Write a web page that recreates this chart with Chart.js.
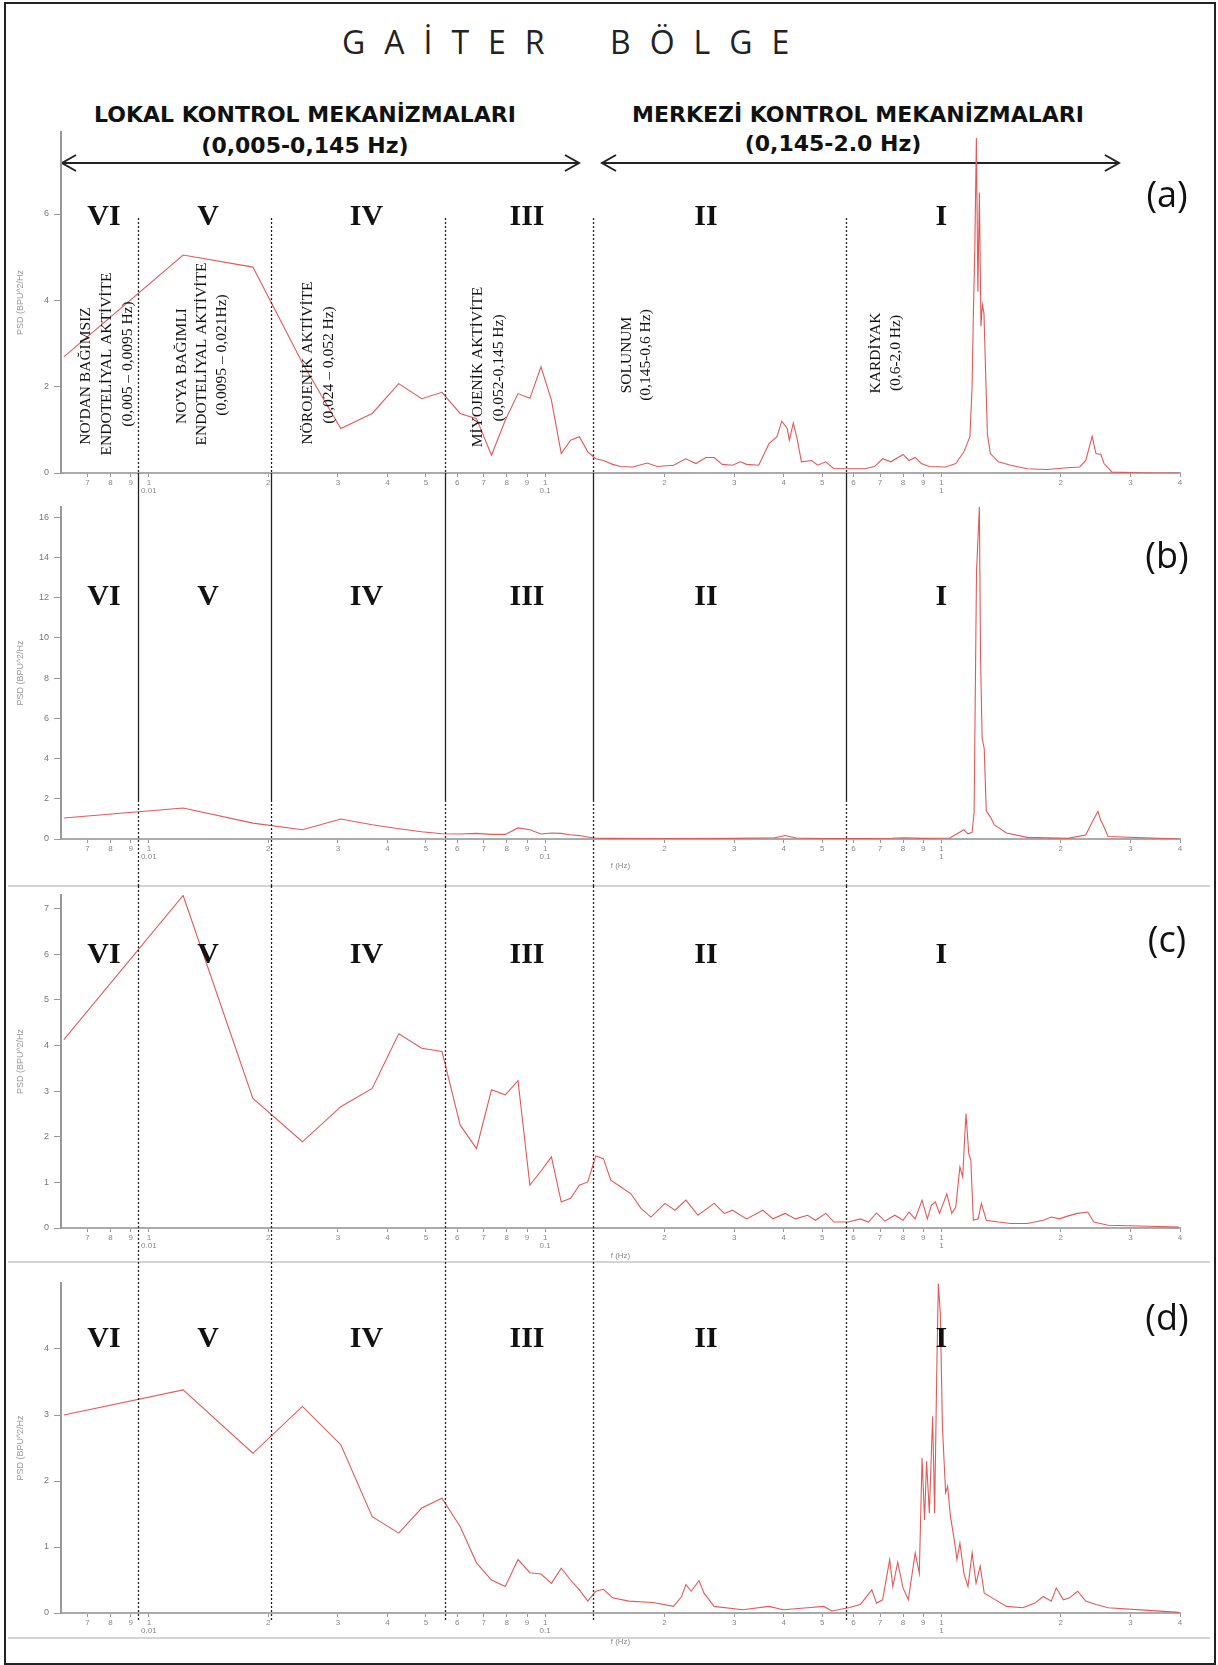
<!DOCTYPE html>
<html>
<head>
<meta charset="utf-8">
<script src="https://cdn.jsdelivr.net/npm/chart.js@4.4.1/dist/chart.umd.min.js"></script>
<style>
  body { margin: 0; background: #fff; }
  #page { position: relative; width: 1218px; height: 1665px; overflow: hidden; background: #fff; }
  .frame { position: absolute; left: 4px; top: 2px; width: 1208px; height: 1659px; border: 2px solid #222; }
  .sep { position: absolute; left: 8px; width: 1202px; height: 2px; background: #d4d4d4; }
  .title { position: absolute; font: 32px "Open Sans"; line-height: 32px; letter-spacing: 19px; color: #222; }
  .hdr { position: absolute; width: 600px; text-align: center; font: bold 22px "DejaVu Sans"; line-height: 22px; color: #111; }
  canvas { position: absolute; left: 0; }
</style>
</head>
<body>
<div id="page">
  <div class="frame"></div>
  <div class="title" style="left:342px; top:26px;">GAİTER</div>
  <div class="title" style="left:610px; top:26px;">BÖLGE</div>
  <div class="hdr" style="left:5px; top:104px;">LOKAL KONTROL MEKANİZMALARI</div>
  <div class="hdr" style="left:5px; top:135px;">(0,005-0,145 Hz)</div>
  <div class="hdr" style="left:558px; top:104px;">MERKEZİ KONTROL MEKANİZMALARI</div>
  <div class="hdr" style="left:533px; top:133px;">(0,145-2.0 Hz)</div>
  <svg style="position:absolute; left:0; top:0;" width="1218" height="200">
    <g stroke="#222" stroke-width="2" fill="none">
      <line x1="62" y1="163" x2="579" y2="163"/>
      <polyline points="76,155 62,163 76,171"/>
      <polyline points="565,155 579,163 565,171"/>
      <line x1="602" y1="163" x2="1119" y2="163"/>
      <polyline points="616,155 602,163 616,171"/>
      <polyline points="1105,155 1119,163 1105,171"/>
    </g>
  </svg>
  <div class="sep" style="top:885px;"></div>
  <div class="sep" style="top:1261px;"></div>
  <div class="sep" style="top:1637px;"></div>
  <canvas id="chartA" width="1218" height="380" style="top:120px;"></canvas>
  <canvas id="chartB" width="1218" height="386" style="top:500px;"></canvas>
  <canvas id="chartC" width="1218" height="376" style="top:886px;"></canvas>
  <canvas id="chartD" width="1218" height="403" style="top:1262px;"></canvas>
</div>

<script>
// frekans ekseni (log) ve bölge sınırları
const xTickValues = [0.007, 0.008, 0.009, 0.01, 0.02, 0.03, 0.04, 0.05, 0.06, 0.07, 0.08, 0.09,
  0.1, 0.2, 0.3, 0.4, 0.5, 0.6, 0.7, 0.8, 0.9, 1, 2, 3, 4];
const xTickLabels = ['7', '8', '9', ['1', '0.01'], '2', '3', '4', '5', '6', '7', '8', '9',
  ['1', '0.1'], '2', '3', '4', '5', '6', '7', '8', '9', ['1', '1'], '2', '3', '4'];
const boundaries = [0.0094, 0.0203, 0.056, 0.132, 0.573];
const numerals = ['VI', 'V', 'IV', 'III', 'II', 'I'];
const numeralFreqs = [0.0077, 0.0141, 0.0354, 0.09, 0.2545, 1.0];

// (a)
const freqA = [0.0061, 0.0122, 0.0183, 0.0244, 0.0305, 0.0366, 0.0427, 0.0488, 0.0549, 0.061,
  0.0671, 0.0732, 0.0793, 0.0854, 0.0915, 0.0976, 0.1037, 0.1098, 0.1159, 0.122,
  0.1281, 0.1342, 0.1403, 0.148, 0.155, 0.1665, 0.1808, 0.1918, 0.2109, 0.2263,
  0.2401, 0.2545, 0.2669, 0.2798, 0.2969, 0.3111, 0.3223, 0.3459, 0.3671, 0.3847,
  0.3954, 0.4082, 0.4132, 0.4229, 0.433, 0.4433, 0.4703, 0.4871, 0.5107, 0.5355,
  0.639, 0.678, 0.7105, 0.7455, 0.80, 0.8286, 0.8586, 0.8895, 0.9322, 1.0247,
  1.087, 1.1395, 1.18, 1.195, 1.203, 1.2144, 1.2252, 1.236, 1.2467, 1.2581,
  1.2686, 1.2804, 1.2921, 1.3063, 1.3289, 1.3921, 1.4951, 1.6469, 1.848, 2.08,
  2.2336, 2.3133, 2.4011, 2.4544, 2.5254, 2.5722, 2.6954, 3.334, 3.976];
const psdA = [2.69, 5.05, 4.77, 2.55, 1.03, 1.38, 2.07, 1.72, 1.87, 1.38,
  1.26, 0.41, 1.22, 1.84, 1.73, 2.46, 1.69, 0.45, 0.76, 0.84,
  0.49, 0.33, 0.29, 0.2, 0.15, 0.14, 0.23, 0.15, 0.18, 0.33,
  0.22, 0.36, 0.36, 0.2, 0.18, 0.26, 0.2, 0.18, 0.68, 0.84,
  1.2, 1.03, 0.76, 1.16, 0.76, 0.26, 0.29, 0.18, 0.26, 0.1,
  0.1, 0.15, 0.33, 0.26, 0.43, 0.29, 0.36, 0.22, 0.15, 0.14,
  0.22, 0.49, 0.84, 2.0, 3.55, 5.25, 7.76, 4.2, 6.5, 3.4,
  3.9, 3.7, 2.4, 0.9, 0.45, 0.26, 0.18, 0.1, 0.08, 0.12,
  0.14, 0.29, 0.85, 0.45, 0.43, 0.22, 0.02, 0.0, 0.0];

// (b)
const freqB = [0.0061, 0.0122, 0.0183, 0.0244, 0.0305, 0.0366, 0.0427, 0.0488, 0.0549, 0.061,
  0.0671, 0.0732, 0.0793, 0.0854, 0.0915, 0.0976, 0.1037, 0.1098, 0.1159, 0.122,
  0.1281, 0.1342, 0.145, 0.2, 0.3, 0.38, 0.403, 0.43, 0.5, 0.6,
  0.75, 0.8, 0.9, 1.05, 1.1395, 1.167, 1.195, 1.209, 1.2262, 1.2467,
  1.2553, 1.2669, 1.2823, 1.2977, 1.3289, 1.36, 1.4594, 1.6469, 2.08, 2.3133,
  2.4011, 2.4832, 2.5254, 2.5604, 2.6335, 4.0];
const psdB = [1.04, 1.54, 0.79, 0.46, 0.99, 0.71, 0.51, 0.36, 0.26, 0.25,
  0.28, 0.23, 0.23, 0.55, 0.46, 0.25, 0.3, 0.28, 0.21, 0.17,
  0.1, 0.04, 0.03, 0.02, 0.03, 0.06, 0.17, 0.05, 0.02, 0.02,
  0.04, 0.06, 0.03, 0.05, 0.46, 0.26, 0.33, 1.3, 13.3, 16.5,
  9.0, 5.0, 4.5, 1.4, 1.1, 0.7, 0.3, 0.08, 0.03, 0.2,
  0.85, 1.37, 0.9, 0.7, 0.12, 0.0];

// (c)
const freqC = [0.0061, 0.0122, 0.0183, 0.0244, 0.0305, 0.0366, 0.0427, 0.0488, 0.0549, 0.061,
  0.0671, 0.0732, 0.0793, 0.0854, 0.0915, 0.0976, 0.1037, 0.1098, 0.1159, 0.122,
  0.1281, 0.1342, 0.1403, 0.1464, 0.1553, 0.1646, 0.1745, 0.1849, 0.2006, 0.2126,
  0.2266, 0.243, 0.2669, 0.2833, 0.2969, 0.3223, 0.3543, 0.3758, 0.4034, 0.4279,
  0.4594, 0.4813, 0.5107, 0.5355, 0.5822, 0.6245, 0.6545, 0.6859, 0.7194, 0.7629,
  0.80, 0.8286, 0.8586, 0.8936, 0.9215, 0.9437, 0.9658, 0.989, 1.0318, 1.0616,
  1.087, 1.1133, 1.1314, 1.1533, 1.1722, 1.1861, 1.2037, 1.2384, 1.2612, 1.2977,
  1.3922, 1.4951, 1.6469, 1.8066, 1.8935, 1.9846, 2.08, 2.2033, 2.3406, 2.4246,
  2.6335, 3.334, 3.976];
const psdC = [4.13, 7.29, 2.84, 1.89, 2.66, 3.06, 4.26, 3.94, 3.87, 2.26,
  1.74, 3.03, 2.92, 3.23, 0.94, 1.25, 1.56, 0.57, 0.65, 0.94,
  1.01, 1.58, 1.52, 1.05, 0.9, 0.75, 0.43, 0.24, 0.54, 0.39,
  0.61, 0.28, 0.54, 0.32, 0.39, 0.2, 0.39, 0.2, 0.32, 0.2,
  0.28, 0.17, 0.32, 0.13, 0.13, 0.2, 0.13, 0.33, 0.15, 0.28,
  0.17, 0.35, 0.2, 0.61, 0.2, 0.5, 0.57, 0.32, 0.75, 0.32,
  0.46, 1.34, 1.12, 2.51, 1.63, 1.49, 0.17, 0.2, 0.54, 0.17,
  0.13, 0.1, 0.1, 0.17, 0.24, 0.2, 0.26, 0.32, 0.35, 0.13,
  0.06, 0.04, 0.02];

// (d)
const freqD = [0.0061, 0.0122, 0.0183, 0.0244, 0.0305, 0.0366, 0.0427, 0.0488, 0.0549, 0.061,
  0.0671, 0.0732, 0.0793, 0.0854, 0.0915, 0.0976, 0.1037, 0.1098, 0.1159, 0.122,
  0.1281, 0.1342, 0.1403, 0.148, 0.1626, 0.1872, 0.2109, 0.2209, 0.2266, 0.2336,
  0.2445, 0.2517, 0.2669, 0.3148, 0.3671, 0.3986, 0.4594, 0.5046, 0.5291, 0.5822,
  0.6245, 0.6673, 0.6859, 0.7105, 0.7403, 0.7539, 0.7757, 0.80, 0.8249, 0.8586,
  0.8794, 0.8936, 0.9066, 0.9173, 0.9322, 0.9502, 0.9613, 0.9731, 0.9822, 0.9936,
  1.0058, 1.0247, 1.0366, 1.054, 1.0741, 1.0946, 1.1133, 1.1395, 1.1668, 1.1952,
  1.2229, 1.2527, 1.2823, 1.36, 1.4594, 1.6049, 1.7221, 1.8066, 1.8935, 1.9485,
  2.0322, 2.1054, 2.2066, 2.3133, 2.4544, 2.6335, 3.334, 3.976];
const psdD = [3.0, 3.38, 2.42, 3.13, 2.55, 1.46, 1.21, 1.59, 1.74, 1.31,
  0.76, 0.5, 0.4, 0.81, 0.61, 0.59, 0.45, 0.68, 0.5, 0.35,
  0.18, 0.33, 0.36, 0.23, 0.18, 0.16, 0.1, 0.25, 0.43, 0.33,
  0.49, 0.3, 0.1, 0.05, 0.1, 0.05, 0.08, 0.1, 0.03, 0.08,
  0.13, 0.35, 0.15, 0.2, 0.81, 0.4, 0.77, 0.38, 0.2, 0.91,
  0.6, 2.35, 1.41, 2.3, 1.51, 2.98, 1.51, 3.63, 4.99, 4.54,
  2.82, 1.82, 1.92, 1.46, 1.16, 0.81, 1.06, 0.6, 0.4, 0.91,
  0.45, 0.71, 0.3, 0.21, 0.1, 0.08, 0.15, 0.25, 0.18, 0.38,
  0.2, 0.23, 0.33, 0.18, 0.13, 0.08, 0.04, 0.01];

const yTicksA = [0, 2, 4, 6];
const yTicksB = [0, 2, 4, 6, 8, 10, 12, 14, 16];
const yTicksC = [0, 1, 2, 3, 4, 5, 6, 7];
const yTicksD = [0, 1, 2, 3, 4];

// (a) panelindeki dikey açıklamalar
const notesA = [
  { x: 86, y: 376, t: "NO'DAN BAĞIMSIZ" },
  { x: 107, y: 364, t: 'ENDOTELİYAL AKTİVİTE' },
  { x: 128, y: 364, t: '(0,005 – 0,0095 Hz)' },
  { x: 182, y: 366, t: "NO'YA BAĞIMLI" },
  { x: 202, y: 354, t: 'ENDOTELİYAL AKTİVİTE' },
  { x: 222, y: 355, t: '(0,0095 – 0,021Hz)' },
  { x: 308, y: 363, t: 'NÖROJENİK AKTİVİTE' },
  { x: 329, y: 365, t: '(0,024 – 0,052 Hz)' },
  { x: 478, y: 367, t: 'MİYOJENİK AKTİVİTE' },
  { x: 499, y: 368, t: '(0,052-0,145 Hz)' },
  { x: 627, y: 355, t: 'SOLUNUM' },
  { x: 646, y: 355, t: '(0,145-0,6 Hz)' },
  { x: 876, y: 353, t: 'KARDİYAK' },
  { x: 896, y: 353, t: '(0,6-2,0 Hz)' }
];

const lineColor = '#e05a5a';
const dotted = [2, 2];

// bölge çizgileri, roma rakamları ve panel harfi
const regionPlugin = {
  id: 'regions',
  afterDraw(chart, args, opts) {
    const ctx = chart.ctx;
    const xs = chart.scales.x;
    ctx.save();
    ctx.strokeStyle = '#222';
    ctx.lineWidth = 1.3;
    boundaries.forEach(function (f) {
      const px = Math.round(xs.getPixelForValue(f)) + 0.5;
      opts.segments.forEach(function (s) {
        ctx.setLineDash(s[2]);
        ctx.beginPath();
        ctx.moveTo(px, s[0]);
        ctx.lineTo(px, s[1]);
        ctx.stroke();
      });
    });
    ctx.setLineDash([]);
    ctx.fillStyle = '#111';
    ctx.textAlign = 'center';
    ctx.textBaseline = 'middle';
    ctx.font = 'bold 30px "Liberation Serif"';
    numerals.forEach(function (n, i) {
      ctx.fillText(n, xs.getPixelForValue(numeralFreqs[i]), opts.numeralY);
    });
    ctx.font = '36px "Open Sans"';
    ctx.fillText(opts.letter, 1167, opts.letterY);
    if (opts.notes) {
      ctx.font = '15.5px "Liberation Serif"';
      opts.notes.forEach(function (n) {
        ctx.save();
        ctx.translate(n.x, n.y - opts.top);
        ctx.rotate(-Math.PI / 2);
        ctx.fillText(n.t, 0, 0);
        ctx.restore();
      });
    }
    ctx.restore();
  }
};

function makePanel(id, freqs, psd, yMax, yTicks, p) {
  const points = freqs.map(function (f, i) { return { x: f, y: psd[i] }; });
  return new Chart(document.getElementById(id), {
    type: 'line',
    data: {
      datasets: [{
        data: points,
        borderColor: lineColor,
        borderWidth: 1.1,
        pointRadius: 0,
        tension: 0,
        fill: false
      }]
    },
    options: {
      responsive: false,
      animation: false,
      layout: { padding: { left: 0, right: 38, top: p.padTop, bottom: 0 } },
      plugins: {
        legend: { display: false },
        tooltip: { enabled: false },
        regions: {
          segments: p.segments,
          numeralY: p.numeralY,
          letter: p.letter,
          letterY: p.letterY,
          notes: p.notes,
          top: p.top
        }
      },
      scales: {
        x: {
          type: 'logarithmic',
          min: 0.006,
          max: 4,
          afterBuildTicks: function (ax) { ax.ticks = xTickValues.map(function (v) { return { value: v }; }); },
          afterFit: function (ax) { ax.height = p.xHeight; ax.paddingLeft = 0; ax.paddingRight = 0; },
          ticks: {
            autoSkip: false,
            maxRotation: 0,
            padding: 1,
            color: '#888',
            font: { size: 8, family: 'Liberation Sans', lineHeight: 1.1 },
            callback: function (v, i) { return xTickLabels[i]; }
          },
          grid: { drawOnChartArea: false, tickLength: 4, color: '#999' },
          border: { color: '#aaa', width: 2 },
          title: {
            display: p.xTitle,
            text: 'f (Hz)',
            color: '#888',
            font: { size: 8, family: 'Liberation Sans' },
            padding: { top: 0, bottom: p.xTitlePad }
          }
        },
        y: {
          min: 0,
          max: yMax,
          afterBuildTicks: function (ax) { ax.ticks = yTicks.map(function (v) { return { value: v }; }); },
          afterFit: function (ax) { ax.width = 61; ax.paddingTop = 0; ax.paddingBottom = 0; },
          ticks: { padding: 5, color: '#777', font: { size: 9, family: 'Liberation Sans' } },
          grid: { drawOnChartArea: false, tickLength: 7, color: '#999' },
          border: { color: '#999', width: 2 },
          title: {
            display: true,
            text: 'PSD (BPU^2/Hz',
            color: '#999',
            font: { size: 9, family: 'Liberation Sans' },
            padding: { top: 15, bottom: 0 }
          }
        }
      }
    },
    plugins: [regionPlugin]
  });
}

makePanel('chartA', freqA, psdA, 7.9, yTicksA, {
  top: 120, padTop: 12, xHeight: 27, xTitle: false, xTitlePad: 0,
  segments: [[98, 353, dotted], [353, 380, []]],
  numeralY: 97, letter: '(a)', letterY: 77, notes: notesA
});
makePanel('chartB', freqB, psdB, 16.5, yTicksB, {
  top: 500, padTop: 7, xHeight: 47, xTitle: true, xTitlePad: 15,
  segments: [[0, 300, []], [300, 386, dotted]],
  numeralY: 97, letter: '(b)', letterY: 58
});
makePanel('chartC', freqC, psdC, 7.3, yTicksC, {
  top: 886, padTop: 9, xHeight: 34, xTitle: true, xTitlePad: 1,
  segments: [[0, 376, dotted]],
  numeralY: 69, letter: '(c)', letterY: 56
});
makePanel('chartD', freqD, psdD, 5.0, yTicksD, {
  top: 1262, padTop: 21, xHeight: 52, xTitle: true, xTitlePad: 18,
  segments: [[0, 358, dotted]],
  numeralY: 77, letter: '(d)', letterY: 58
});
</script>
</body>
</html>
